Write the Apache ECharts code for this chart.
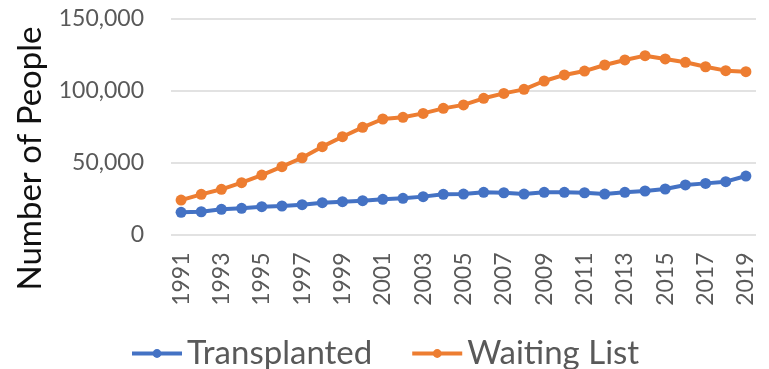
<!DOCTYPE html>
<html>
<head>
<meta charset="utf-8">
<script src="https://cdn.jsdelivr.net/npm/echarts@6/dist/echarts.min.js"></script>
<style>
  html, body { margin: 0; padding: 0; background: #fff; }
  #chart { width: 769px; height: 369px; }
</style>
</head>
<body>
<div id="chart"></div>
<script>
// Years on the category axis
const years = ['1991','1992','1993','1994','1995','1996','1997','1998','1999','2000',
  '2001','2002','2003','2004','2005','2006','2007','2008','2009','2010',
  '2011','2012','2013','2014','2015','2016','2017','2018','2019'];

// People transplanted per year
const transplanted = [15400, 15800, 17500, 18200, 19300, 19800, 20700, 22100, 22800, 23500,
  24400, 25100, 26300, 27900, 28100, 29300, 29000, 28100, 29300, 29300,
  29000, 28100, 29300, 30200, 31600, 34400, 35500, 36700, 40600];

// People on the waiting list per year
const waitingList = [23900, 27900, 31400, 36000, 41300, 47100, 53300, 61000, 67900, 74400,
  80200, 81400, 84100, 87600, 90000, 94600, 98000, 100800, 106600, 110800,
  113500, 117700, 121200, 124200, 121900, 119600, 116500, 113800, 113100];

// Value axis ticks
const yTicks = { min: 0, max: 150000, interval: 50000 };

const FONT = 'Lato, "Open Sans", sans-serif';
const chart = echarts.init(document.getElementById('chart'), null, { renderer: 'canvas' });

chart.setOption({
  animation: false,
  backgroundColor: '#ffffff',
  grid: { left: 171, right: 13, top: 18.5, bottom: 134.5, containLabel: false },
  legend: {
    left: 125,
    top: 332,
    itemWidth: 50,
    itemHeight: 11,
    itemGap: 38,
    lineStyle: { width: 4 },
    textStyle: { fontFamily: FONT, fontSize: 33, color: '#595959' },
    data: ['Transplanted', 'Waiting List']
  },
  xAxis: {
    type: 'category',
    data: years,
    boundaryGap: true,
    axisLine: { show: false },
    axisTick: { show: false },
    axisLabel: {
      rotate: 90,
      interval: 1,
      margin: 18,
      fontFamily: FONT,
      fontSize: 23,
      color: '#595959'
    }
  },
  yAxis: {
    type: 'value',
    min: yTicks.min,
    max: yTicks.max,
    interval: yTicks.interval,
    name: 'Number of People',
    nameLocation: 'middle',
    nameRotate: 90,
    nameGap: 124,
    nameTextStyle: {
      fontFamily: FONT,
      fontSize: 33,
      color: '#111111',
      padding: [0, 64, 0, 0]
    },
    axisLine: { show: false },
    axisTick: { show: false },
    splitLine: { lineStyle: { color: '#d9d9d9', width: 1.5 } },
    axisLabel: {
      margin: 27,
      fontFamily: FONT,
      fontSize: 23,
      color: '#595959',
      formatter: v => v.toLocaleString('en-US')
    }
  },
  series: [
    {
      name: 'Transplanted',
      type: 'line',
      data: transplanted,
      symbol: 'circle',
      symbolSize: 11,
      color: '#4472C4',
      lineStyle: { width: 4, color: '#4472C4' },
      itemStyle: { color: '#4472C4' },
      z: 3
    },
    {
      name: 'Waiting List',
      type: 'line',
      data: waitingList,
      symbol: 'circle',
      symbolSize: 11,
      color: '#ED7D31',
      lineStyle: { width: 4, color: '#ED7D31' },
      itemStyle: { color: '#ED7D31' },
      z: 2
    }
  ]
});
</script>
</body>
</html>
